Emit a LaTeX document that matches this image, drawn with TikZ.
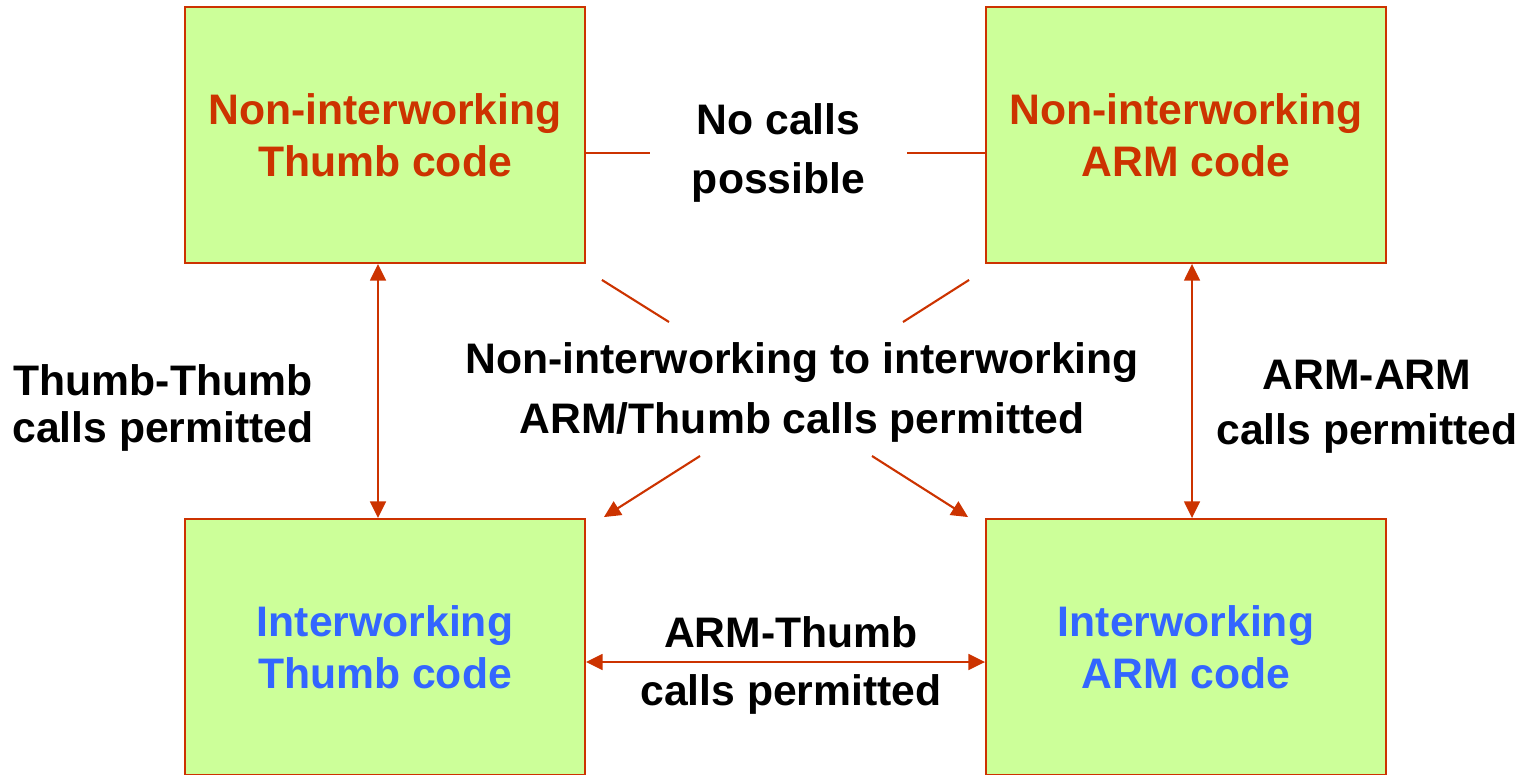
\documentclass[tikz,border=0pt]{standalone}
\usepackage{fontspec}
\setmainfont{Liberation Sans}
\usetikzlibrary{positioning, arrows.meta}
\definecolor{boxfill}{HTML}{CCFF99}
\definecolor{linkred}{HTML}{CC3300}
\definecolor{codeblue}{HTML}{3366FF}
\tikzset{
  codebox/.style={draw=linkred, line width=1.1pt, fill=boxfill, minimum width=8cm, minimum height=5.12cm, inner sep=0pt, align=center, font=\bfseries\fontsize{24.3}{29.6}\selectfont},
  callnote/.style={inner sep=0pt, align=center, font=\bfseries\fontsize{24.3}{#1}\selectfont},
  link/.style={draw=linkred, line width=1.2pt},
  oneway/.style={link, -{Triangle[length=9.5pt, width=9pt]}},
  twoway/.style={link, {Triangle[length=9.5pt, width=9pt]}-{Triangle[length=9.5pt, width=9pt]}}
}
\begin{document}
\begin{tikzpicture}[x=0.02cm, y=-0.02cm]
    \useasboundingbox (0,0) rectangle (1530,774);

    % Code boxes
    \node (ntthumb) [codebox, text=linkred] at (385,135) {Non-interworking\\Thumb code};
    \node (ntarm) [codebox, text=linkred] at (1186,135) {Non-interworking\\ARM code};
    \node (ithumb) [codebox, text=codeblue] at (385,647) {Interworking\\Thumb code};
    \node (iarm) [codebox, text=codeblue] at (1186,647) {Interworking\\ARM code};

    % Call labels
    \node (nocalls) [callnote=34.1, minimum width=5.14cm] at (778.5,153) {No calls\\possible};
    \node (mixed) [callnote=34.1] at (802,392) {Non-interworking to interworking\\ARM/Thumb calls permitted};
    \node (thumbthumb) [callnote=27] at (163,408) {Thumb-Thumb\\calls permitted};
    \node (armarm) [callnote=31.3] at (1367,407) {ARM-ARM\\calls permitted};
    \node (armthumb) [callnote=33] at (791,665) {ARM-Thumb\\calls permitted};

    % No calls between the non-interworking boxes
    \draw[link] (ntthumb.east |- nocalls) -- (nocalls.west);
    \draw[link] (nocalls.east) -- (ntarm.west |- nocalls);

    % Permitted calls
    \draw[twoway] ([xshift=-0.14cm]ntthumb.south) -- ([xshift=-0.14cm]ithumb.north);
    \draw[twoway] ([xshift=0.12cm]ntarm.south) -- ([xshift=0.12cm]iarm.north);
    \draw[twoway] ([yshift=-0.3cm]ithumb.east) -- ([yshift=-0.3cm]iarm.west);

    % Non-interworking to interworking
    \coordinate (mixnw) at (669,322);
    \coordinate (mixne) at (903,322);
    \coordinate (mixsw) at (700,456);
    \coordinate (mixse) at (872,456);
    \draw[link] ([shift={(16,16)}]ntthumb.south east) -- (mixnw);
    \draw[link] ([shift={(-16,16)}]ntarm.south west) -- (mixne);
    \draw[oneway] (mixsw) -- ([shift={(18,-1)}]ithumb.north east);
    \draw[oneway] (mixse) -- ([shift={(-17,-1)}]iarm.north west);
\end{tikzpicture}
\end{document}
